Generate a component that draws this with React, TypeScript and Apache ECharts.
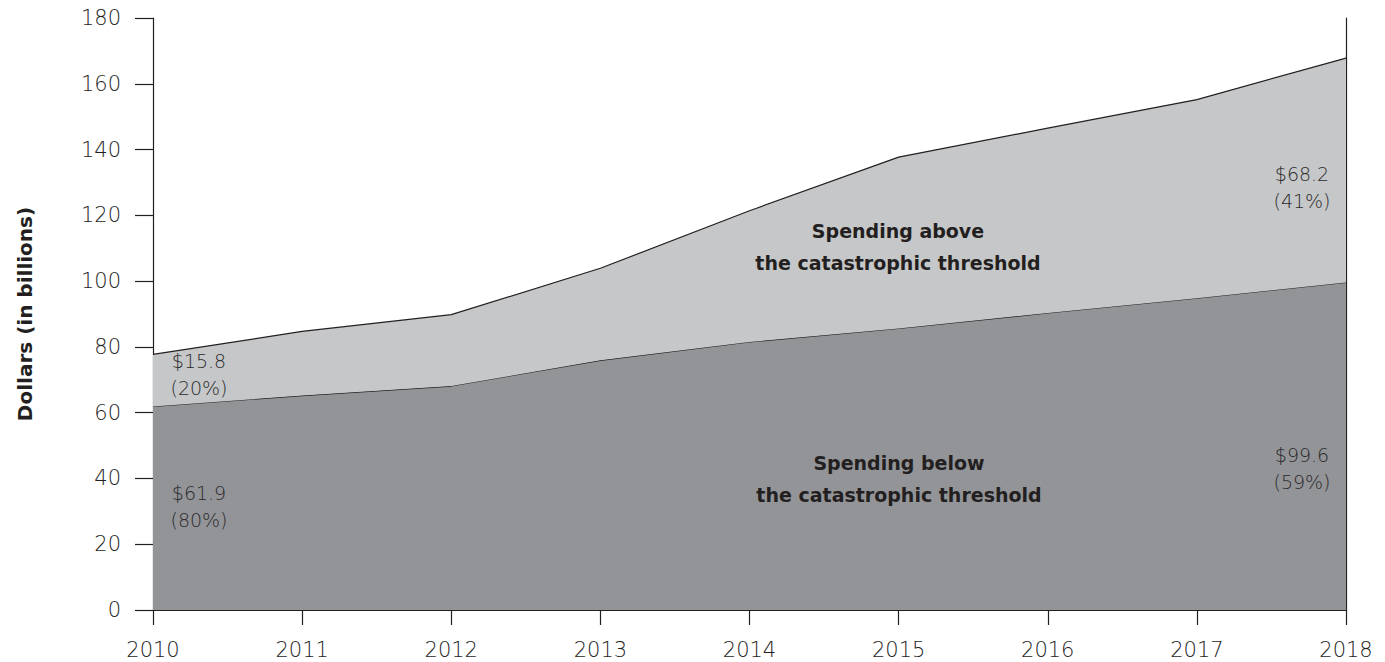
import React, { useEffect, useRef } from "react";
import * as echarts from "echarts";

const years = ["2010", "2011", "2012", "2013", "2014", "2015", "2016", "2017", "2018"];
const belowThreshold = [61.9, 65.2, 68.1, 75.9, 81.5, 85.6, 90.3, 94.8, 99.6];
const aboveThreshold = [15.8, 19.5, 21.7, 28.0, 39.9, 52.1, 56.2, 60.4, 68.2];

const FONT = "'DejaVu Sans', sans-serif";
const INK = "#231f20";
const LABEL = "#1e1e1e";

export default function App() {
  const ref = useRef<HTMLDivElement>(null);

  useEffect(() => {
    if (!ref.current) return;
    const chart = echarts.init(ref.current, null, { renderer: "svg" });
    const valueText = (x: number, y: number, t: string) => ({
      type: "text",
      x,
      y,
      style: {
        text: t,
        fill: "#2a2a2a",
        font: `300 19px ${FONT}`,
        align: "center",
        verticalAlign: "middle",
        lineHeight: 27,
      },
      z: 100,
    });
    const boldText = (x: number, y: number, t: string) => ({
      type: "text",
      x,
      y,
      style: {
        text: t,
        fill: INK,
        font: `bold 19px ${FONT}`,
        align: "center",
        verticalAlign: "middle",
        lineHeight: 32,
      },
      z: 100,
    });
    chart.setOption({
      animation: false,
      grid: { left: 153, right: 39, top: 18, bottom: 52, containLabel: false },
      xAxis: [
        {
          type: "category",
          data: years,
          boundaryGap: false,
          axisLine: { show: true, lineStyle: { color: INK, width: 1.2 } },
          axisTick: { show: true, length: 15, lineStyle: { color: INK, width: 1.2 } },
          axisLabel: { color: LABEL, fontSize: 21, fontWeight: 300, fontFamily: FONT, margin: 29 },
          splitLine: { show: false },
        },
        {
          type: "category",
          data: years,
          position: "top",
          boundaryGap: false,
          axisLine: { show: true, lineStyle: { color: INK, width: 1.2 } },
          axisTick: { show: false },
          axisLabel: { show: false },
        },
      ],
      yAxis: [
        {
          type: "value",
          min: 0,
          max: 180,
          interval: 20,
          axisLine: { show: true, lineStyle: { color: INK, width: 1.2 } },
          axisTick: { show: true, length: 18, lineStyle: { color: INK, width: 1.2 } },
          axisLabel: { color: LABEL, fontSize: 21, fontWeight: 300, fontFamily: FONT, margin: 32 },
          splitLine: { show: false },
        },
        {
          type: "value",
          min: 0,
          max: 180,
          interval: 20,
          position: "right",
          axisLine: { show: true, lineStyle: { color: INK, width: 1.2 } },
          axisTick: { show: false },
          axisLabel: { show: false },
          splitLine: { show: false },
        },
      ],
      series: [
        {
          name: "Spending below the catastrophic threshold",
          type: "line",
          stack: "total",
          data: belowThreshold,
          showSymbol: false,
          symbol: "none",
          lineStyle: { color: INK, width: 1.2 },
          areaStyle: { color: "#939498", opacity: 1 },
          z: 2,
        },
        {
          name: "Spending above the catastrophic threshold",
          type: "line",
          stack: "total",
          data: aboveThreshold,
          showSymbol: false,
          symbol: "none",
          lineStyle: { color: INK, width: 1.2 },
          areaStyle: { color: "#c6c7c9", opacity: 1 },
          z: 3,
        },
      ],
      graphic: [
        {
          type: "text",
          x: 25,
          y: 314,
          rotation: Math.PI / 2,
          style: {
            text: "Dollars (in billions)",
            fill: INK,
            font: `bold 20px ${FONT}`,
            align: "center",
            verticalAlign: "middle",
          },
        },
        valueText(199, 374, "$15.8\n(20%)"),
        valueText(199, 506, "$61.9\n(80%)"),
        valueText(1302, 187, "$68.2\n(41%)"),
        valueText(1302, 468, "$99.6\n(59%)"),
        boldText(898, 247, "Spending above\nthe catastrophic threshold"),
        boldText(899, 479, "Spending below\nthe catastrophic threshold"),
      ],
    });
    return () => chart.dispose();
  }, []);

  return (
    <div
      ref={ref}
      style={{ position: "absolute", left: 0, top: 0, width: 1385, height: 662 }}
    />
  );
}
